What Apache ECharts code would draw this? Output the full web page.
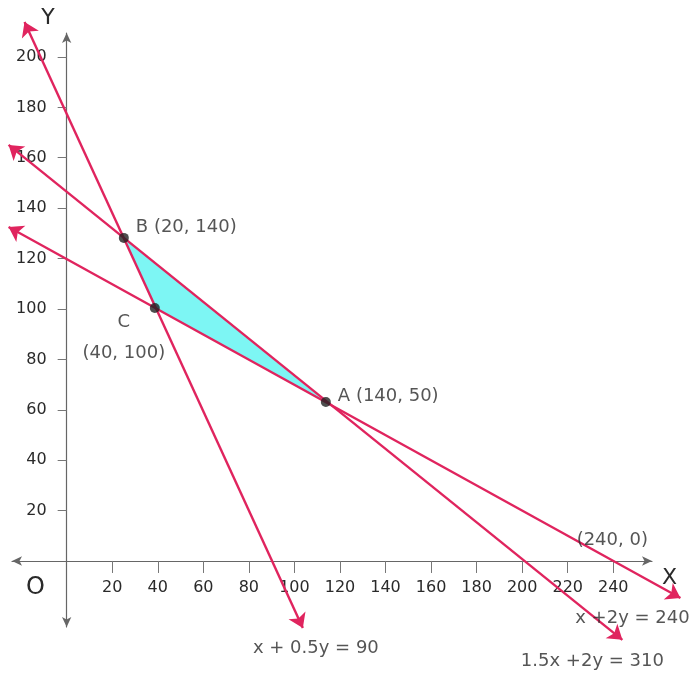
<!DOCTYPE html>
<html>
<head>
<meta charset="utf-8">
<script src="https://cdn.jsdelivr.net/npm/echarts@6/dist/echarts.min.js"></script>
<style>html,body{margin:0;padding:0;background:#fff}#c{width:690px;height:675px}</style>
</head>
<body>
<div id="c"></div>
<script>
// ---- data ----
const xTicks = [20, 40, 60, 80, 100, 120, 140, 160, 180, 200, 220, 240];
const yTicks = [20, 40, 60, 80, 100, 120, 140, 160, 180, 200];
const lineNames = ['x + 0.5y = 90', '1.5x +2y = 310', 'x +2y = 240'];
const line1 = [[-18.5, 213.9], [103.7, -26.6]];
const line2 = [[-25.5, 165.1], [244.0, -31.3]];
const line3 = [[-25.5, 132.5], [269.5, -14.7]];
const pointNames = ['B (20, 140)', 'C\n(40, 100)', 'A (140, 50)'];
const pointB = [25.1, 128.2];
const pointC = [38.7, 100.4];
const pointA = [113.8, 63.1];
const interceptLabel = '(240, 0)';
const intercept = [240, 0];

const FONT = 'DejaVu Sans';
const TXT = '#2a2a2a';
const RED = '#e0245e';

const lines = [line1, line2, line3];
const points = [pointB, pointC, pointA];
const labelOffsets = [[12, -11], [-31, 30], [12, -6]];
const labelAligns = ['left', 'center', 'left'];
const eqOffsets = [[13, 20], [-30, 21], [-48, 20]];

// layout
const G = {left: 12, top: 33, width: 640, height: 594};
const X_MIN = -24, X_MAX = 257, Y_MIN = -26.2, Y_MAX = 209.5;
const xOff = -G.width * (0 - X_MIN) / (X_MAX - X_MIN);
const yOff = -G.height * (0 - Y_MIN) / (Y_MAX - Y_MIN);

const chart = echarts.init(document.getElementById('c'), null, {renderer: 'canvas'});
chart.setOption({
  animation: false,
  backgroundColor: '#fff',
  grid: Object.assign({containLabel: false, outerBoundsMode: 'none'}, G),
  xAxis: {
    type: 'value', min: X_MIN, max: X_MAX, position: 'bottom', offset: yOff,
    name: 'X', nameLocation: 'end', nameGap: 10,
    nameTextStyle: {fontFamily: FONT, fontSize: 22, color: TXT, verticalAlign: 'top', padding: [6, 0, 0, 0]},
    axisLine: {onZero: false, lineStyle: {color: '#666', width: 1.2}, symbol: ['arrow', 'arrow'], symbolSize: [7, 10]},
    axisTick: {show: true, inside: false, length: 12, lineStyle: {color: '#777'}, customValues: xTicks},
    axisLabel: {margin: 19, fontFamily: FONT, fontSize: 16, color: TXT, customValues: xTicks},
    splitLine: {show: false}
  },
  yAxis: {
    type: 'value', min: Y_MIN, max: Y_MAX, position: 'left', offset: xOff,
    name: 'Y', nameLocation: 'end', nameGap: 4,
    nameTextStyle: {fontFamily: FONT, fontSize: 22, color: TXT, align: 'right', padding: [0, 12, 0, 0]},
    axisLine: {onZero: false, lineStyle: {color: '#666', width: 1.2}, symbol: ['arrow', 'arrow'], symbolSize: [7, 10]},
    axisTick: {show: true, inside: false, length: 9, lineStyle: {color: '#777'}, customValues: yTicks},
    axisLabel: {margin: 20, fontFamily: FONT, fontSize: 16, color: TXT, customValues: yTicks},
    splitLine: {show: false}
  },
  graphic: [{
    type: 'text', left: 26, top: 576,
    style: {text: 'O', fontFamily: FONT, fontSize: 24, fill: TXT}
  }],
  series: [
    {
      type: 'custom', coordinateSystem: 'cartesian2d', z: 1,
      data: points,
      renderItem: function (params, api) {
        if (params.dataIndex !== 0) return null;
        return {
          type: 'polygon',
          shape: {points: points.map(p => api.coord(p))},
          style: {fill: '#7df6f4', stroke: null}
        };
      },
      clip: false, silent: true
    },
    {
      type: 'lines', coordinateSystem: 'cartesian2d', z: 3, clip: false,
      symbol: ['arrow', 'arrow'], symbolSize: 14,
      lineStyle: {color: RED, width: 2.4, opacity: 1},
      data: lines.map(l => ({coords: l}))
    },
    {
      type: 'scatter', z: 5, clip: false,
      symbol: 'circle', symbolSize: 10,
      itemStyle: {color: '#222'},
      data: points.map((p, i) => ({
        value: p,
        label: {
          show: true, formatter: pointNames[i], position: 'inside',
          offset: labelOffsets[i], align: labelAligns[i], verticalAlign: 'middle',
          fontFamily: FONT, fontSize: 18, color: TXT, lineHeight: 31
        }
      }))
    },
    {
      type: 'scatter', z: 5, clip: false,
      symbol: 'circle', symbolSize: 1,
      itemStyle: {color: 'rgba(0,0,0,0)'},
      data: lines.map((l, i) => ({
        value: l[1],
        label: {
          show: true, formatter: lineNames[i], position: 'inside',
          offset: eqOffsets[i], align: 'center', verticalAlign: 'middle',
          fontFamily: FONT, fontSize: 18, color: TXT
        }
      })).concat([{
        value: intercept,
        label: {
          show: true, formatter: interceptLabel, position: 'inside',
          offset: [-1, -21], align: 'center', verticalAlign: 'middle',
          fontFamily: FONT, fontSize: 18, color: TXT
        }
      }])
    }
  ]
});
</script>
</body>
</html>
